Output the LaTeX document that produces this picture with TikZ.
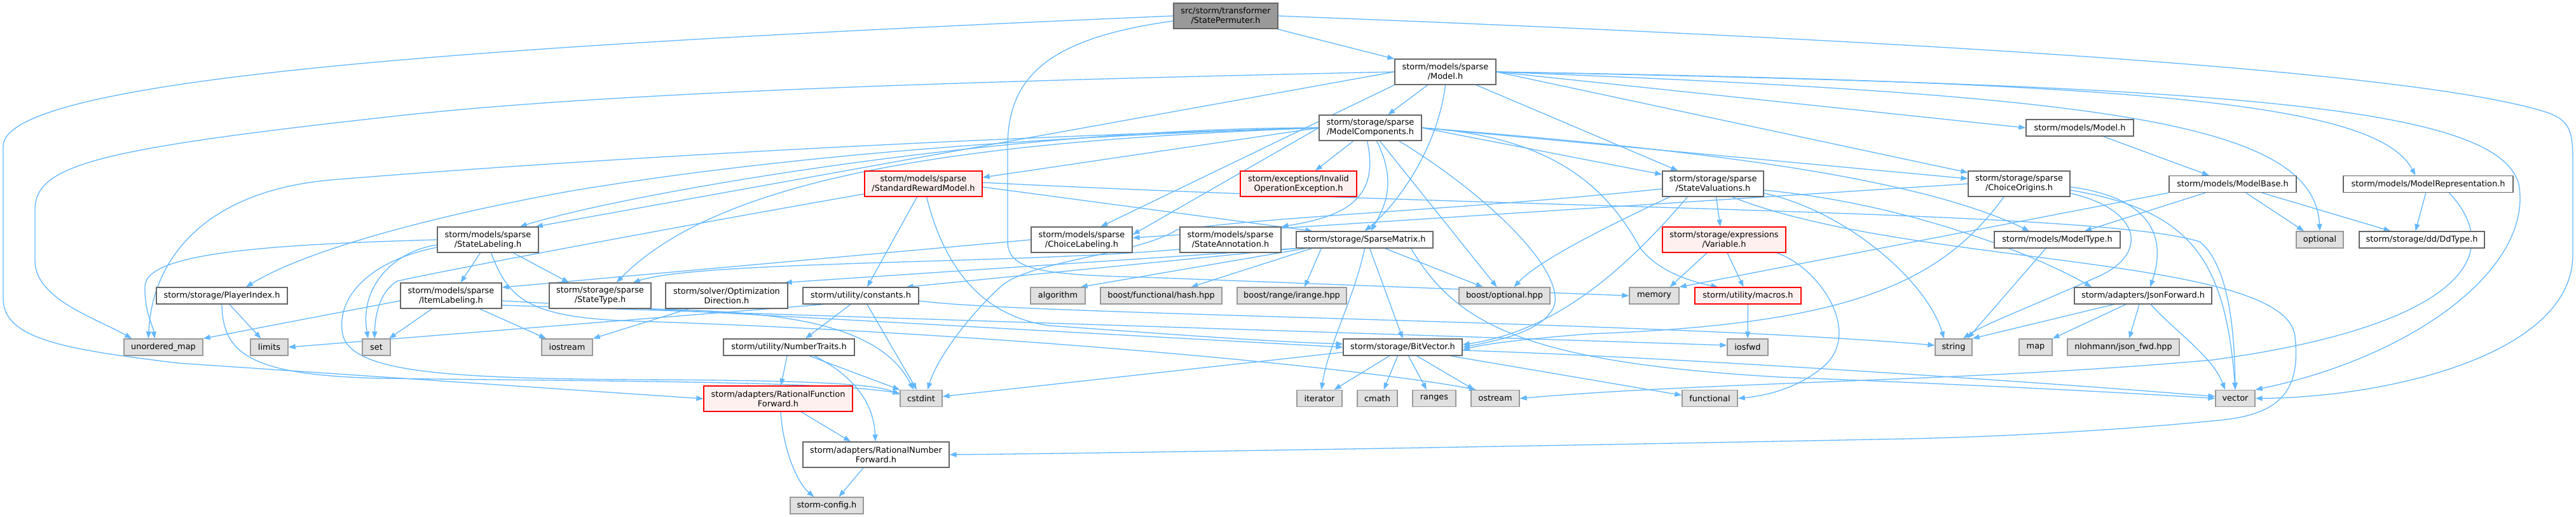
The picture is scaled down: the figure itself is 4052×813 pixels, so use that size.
\documentclass[tikz,border=0pt]{standalone}
\usepackage{fontspec}
\newfontfamily\dvs{DejaVu Sans}
\usetikzlibrary{arrows.meta,backgrounds}
\definecolor{eblue}{RGB}{99,184,255}
\definecolor{bgray}{RGB}{102,102,102}
\definecolor{ggray}{RGB}{153,153,153}
\definecolor{efill}{RGB}{224,224,224}
\definecolor{rfill}{RGB}{255,240,240}
\definecolor{rootfill}{RGB}{153,153,153}
\tikzset{
  nd/.style={draw=bgray, fill=white, line width=1.3pt, inner sep=0pt, align=center, text=black, font=\dvs\fontsize{12.9pt}{15pt}\selectfont},
  ext/.style={nd, draw=ggray, fill=efill},
  trunc/.style={nd, draw=red, fill=rfill},
  root/.style={nd, fill=rootfill},
  sz/.style 2 args={minimum width=#1pt, minimum height=#2pt},
  dep/.style={draw=eblue, line width=1.3pt, -{Triangle[length=11pt,width=8pt]}}
}
\begin{document}
\begin{tikzpicture}[x=1pt,y=-1pt]
\useasboundingbox (0,0) rectangle (4052,813);
% ---------- nodes ----------
\node[root, sz={164}{40}] (SP) at (1928,25) {src/storm/transformer\\/StatePermuter.h};
\node[nd, sz={159}{40}] (ModelSp) at (2273.5,113) {storm/models/sparse\\/Model.h};
\node[nd, sz={161}{40}] (MC) at (2155.5,201) {storm/storage/sparse\\/ModelComponents.h};
\node[nd, sz={169}{26}] (MM) at (3271.5,201) {storm/models/Model.h};
\node[trunc, sz={185}{40}] (SRM) at (1452.5,289) {storm/models/sparse\\/StandardRewardModel.h};
\node[trunc, sz={183}{40}] (IOE) at (2042.5,289) {storm/exceptions/Invalid\\OperationException.h};
\node[nd, sz={159}{40}] (SV) at (2694.5,289) {storm/storage/sparse\\/StateValuations.h};
\node[nd, sz={160}{40}] (CO) at (3176,289) {storm/storage/sparse\\/ChoiceOrigins.h};
\node[nd, sz={200}{26}] (MB) at (3512,289.5) {storm/models/ModelBase.h};
\node[nd, sz={267}{26}] (MR) at (3819.5,289.5) {storm/models/ModelRepresentation.h};
\node[nd, sz={159}{40}] (SL) at (767.5,377) {storm/models/sparse\\/StateLabeling.h};
\node[nd, sz={159}{40}] (CL) at (1701.5,377) {storm/models/sparse\\/ChoiceLabeling.h};
\node[nd, sz={159}{40}] (SA) at (1935.5,377) {storm/models/sparse\\/StateAnnotation.h};
\node[nd, sz={215}{26}] (SM) at (2146.5,377) {storm/storage/SparseMatrix.h};
\node[trunc, sz={194}{40}] (Var) at (2712,377) {storm/storage/expressions\\/Variable.h};
\node[nd, sz={198}{26}] (MT) at (3236,377) {storm/models/ModelType.h};
\node[ext, sz={74}{26}] (optional) at (3649,377) {optional};
\node[nd, sz={197}{26}] (DdType) at (3809.5,377) {storm/storage/dd/DdType.h};
\node[nd, sz={206}{26}] (PI) at (349,465) {storm/storage/PlayerIndex.h};
\node[nd, sz={159}{40}] (IL) at (709.5,465) {storm/models/sparse\\/ItemLabeling.h};
\node[nd, sz={160}{40}] (ST) at (944,465) {storm/storage/sparse\\/StateType.h};
\node[nd, sz={192}{40}] (OD) at (1143,465) {storm/solver/Optimization\\Direction.h};
\node[nd, sz={182}{26}] (constants) at (1354,465) {storm/utility/constants.h};
\node[ext, sz={86}{26}] (algorithm) at (1664,465) {algorithm};
\node[ext, sz={191}{26}] (hash) at (1826.5,465) {boost/functional/hash.hpp};
\node[ext, sz={172}{26}] (irange) at (2032,465) {boost/range/irange.hpp};
\node[ext, sz={143}{26}] (bopt) at (2366.5,465) {boost/optional.hpp};
\node[ext, sz={78}{26}] (memory) at (2602,465) {memory};
\node[trunc, sz={167}{26}] (macros) at (2749.5,465) {storm/utility/macros.h};
\node[nd, sz={216}{26}] (JF) at (3371,465) {storm/adapters/JsonForward.h};
\node[ext, sz={124}{26}] (umap) at (257,546) {unordered\_map};
\node[ext, sz={59}{26}] (limits) at (423.5,546) {limits};
\node[ext, sz={44}{26}] (set) at (592,546) {set};
\node[ext, sz={80}{26}] (iostream) at (892,546) {iostream};
\node[nd, sz={206}{26}] (NT) at (1241,546) {storm/utility/NumberTraits.h};
\node[nd, sz={187}{26}] (BV) at (2206.5,546) {storm/storage/BitVector.h};
\node[ext, sz={64}{26}] (iosfwd) at (2749,546) {iosfwd};
\node[ext, sz={58}{26}] (string) at (3073,546) {string};
\node[ext, sz={52}{26}] (map) at (3202,546) {map};
\node[ext, sz={176}{26}] (nlohmann) at (3340,546) {nlohmann/json\_fwd.hpp};
\node[trunc, sz={234}{40}] (RFF) at (1224,627) {storm/adapters/RationalFunction\\Forward.h};
\node[ext, sz={66}{26}] (cstdint) at (1449,626.5) {cstdint};
\node[ext, sz={71}{26}] (iterator) at (2075.5,626.5) {iterator};
\node[ext, sz={63}{26}] (cmath) at (2166.5,626.5) {cmath};
\node[ext, sz={68}{26}] (ranges) at (2256,626.5) {ranges};
\node[ext, sz={76}{26}] (ostream) at (2352,626.5) {ostream};
\node[ext, sz={87}{26}] (functional) at (2689.5,626.5) {functional};
\node[ext, sz={62}{26}] (vector) at (3516,626.5) {vector};
\node[nd, sz={230}{40}] (RNF) at (1378,715) {storm/adapters/RationalNumber\\Forward.h};
\node[ext, sz={115}{26}] (config) at (1300.5,795) {storm-config.h};
% ---------- edges ----------
\begin{pgfonlayer}{background}
\fill[white] (0,0) rectangle (4052,813);
% StatePermuter
\draw[dep] (SP) -- (ModelSp);
\draw[dep] (SP.west) .. controls (800,70) and (5,120) .. (5,230) -- (5,470) .. controls (5,535) and (110,550) .. (280,571) -- (RFF.west);
\draw[dep] ([yshift=-8pt]SP.west) .. controls (1650,60) and (1585,120) .. (1585,230) -- (1585,380) .. controls (1585,425) and (1640,432) .. (1800,436) -- (memory.west);
\draw[dep] (SP.east) .. controls (3300,75) and (3850,125) .. (4010,178) .. controls (4045,192) and (4047,210) .. (4047,260) -- (4047,400) .. controls (4047,560) and (3750,625) .. (vector.east);
% sparse Model
\draw[dep] (ModelSp) -- (MC);
\draw[dep] (ModelSp.south) .. controls (2262,230) and (2200,320) .. (SM.north);
\draw[dep] (ModelSp) -- ([xshift=25pt]SV.north west);
\draw[dep] (ModelSp.east) -- (MM.west);
\draw[dep] (ModelSp.east) .. controls (3400,130) and (3740,165) .. ([xshift=-20pt]MR.north);
\draw[dep] (ModelSp.east) .. controls (3300,150) and (3640,190) .. (optional.north);
\draw[dep] (ModelSp.east) .. controls (3500,135) and (3930,165) .. (3962,290) .. controls (3985,420) and (3800,560) .. (vector.north east);
\draw[dep] (ModelSp.west) .. controls (1400,130) and (900,150) .. (600,185) .. controls (150,235) and (55,260) .. (55,330) -- (55,410) .. controls (55,470) and (150,500) .. ([xshift=13pt]umap.north west);
\draw[dep] (ModelSp.west) -- ([xshift=-5pt]SL.north east);
\draw[dep] (ModelSp.south west) -- ([xshift=30pt]CL.north);
\draw[dep] (ModelSp.east) -- ([yshift=-3pt]CO.north west);
% ModelComponents
\draw[dep] (MC.west) .. controls (1600,200) and (1000,300) .. ([xshift=-30pt]SL.north east);
\draw[dep] (MC.west) -- ([yshift=8pt]CL.east);
\draw[dep] (MC.west) -- ([yshift=10pt]SRM.east);
\draw[dep] ([xshift=-5pt]MC.south) .. controls (2170,310) and (2120,340) .. (SA.north east);
\draw[dep] ([xshift=10pt]MC.south) .. controls (2200,290) and (2175,330) .. ([xshift=10pt]SM.north);
\draw[dep] ([xshift=45pt]MC.south) .. controls (2330,300) and (2460,420) .. (2445,480) .. controls (2430,520) and (2360,535) .. (BV.east);
\draw[dep] (MC.west) .. controls (1600,215) and (1200,250) .. (900,300) .. controls (650,345) and (470,400) .. ([xshift=38pt]PI.north);
\draw[dep] (MC.east) -- ([yshift=8pt]CO.west);
\draw[dep] (MC.west) .. controls (1600,220) and (1150,260) .. ([xshift=-55pt]ST.north east);
\draw[dep] (MC.east) -- ([yshift=-6pt]SV.north west);
\draw[dep] (MC.east) .. controls (2450,215) and (2530,300) .. (2580,390) .. controls (2610,430) and (2670,445) .. ([xshift=37pt]macros.north west);
\draw[dep] (MC) -- (IOE);
\draw[dep] ([xshift=15pt]MC.south) -- ([xshift=-12pt]bopt.north);
\draw[dep] (MC.east) .. controls (2600,230) and (3000,270) .. ([xshift=-44pt]MT.north);
\draw[dep] (MC.west) .. controls (1400,220) and (800,260) .. (520,283) .. controls (330,300) and (240,400) .. ([xshift=39pt]umap.north west);
% models/Model, ModelBase, ModelRepresentation
\draw[dep] (MM) -- (MB);
\draw[dep] (MB) -- ([xshift=43pt]MT.north);
\draw[dep] (MB) -- ([xshift=-25pt]optional.north);
\draw[dep] (MB) -- ([xshift=-49pt]DdType.north);
\draw[dep] (MB.south west) -- (memory.north east);
\draw[dep] (MR) -- ([xshift=-10pt]DdType.north);
\draw[dep] ([xshift=33pt]MR.south) .. controls (3960,420) and (3820,520) .. (3480,566) .. controls (3100,600) and (2700,600) .. (ostream.east);
% StandardRewardModel
\draw[dep] ([yshift=-5pt]SRM.east) -- ([xshift=26pt]SM.north west);
\draw[dep] ([xshift=5pt]SRM.south) .. controls (1480,400) and (1530,495) .. (1650,512) .. controls (1900,530) and (2000,537) .. ([yshift=5pt]BV.west);
\draw[dep] ([yshift=-16pt]SRM.west) .. controls (1100,350) and (700,425) .. (625,442) .. controls (595,460) and (590,500) .. ([xshift=-3pt]set.north);
\draw[dep] ([xshift=-10pt]SRM.south) -- ([xshift=10pt]constants.north);
\draw[dep] ([yshift=2pt]SRM.east) .. controls (2400,330) and (3300,330) .. (3460,380) .. controls (3510,420) and (3515,540) .. (vector.north);
% StateLabeling
\draw[dep] ([xshift=-12pt]SL.south) -- ([xshift=15pt]IL.north);
\draw[dep] ([xshift=40pt]SL.south) -- ([xshift=-49pt]ST.north);
\draw[dep] ([yshift=-8pt]SL.west) .. controls (620,395) and (565,450) .. ([xshift=-13pt]set.north);
\draw[dep] ([yshift=-12pt]SL.west) .. controls (580,410) and (525,470) .. (540,530) .. controls (560,585) and (700,595) .. (1000,597) .. controls (1300,598) and (1380,605) .. ([yshift=6pt]cstdint.west);
\draw[dep] (SL.west) .. controls (400,385) and (230,400) .. (228,450) .. controls (227,490) and (240,510) .. ([xshift=49pt]umap.north west);
\draw[dep] ([xshift=5pt]SL.south) .. controls (800,470) and (830,500) .. (1000,505) .. controls (1600,525) and (2150,580) .. ([xshift=-30pt]ostream.north);
% ItemLabeling
\draw[dep] ([yshift=-8pt]IL.west) -- (umap.north east);
\draw[dep] ([xshift=-30pt]IL.south) -- ([xshift=20pt]set.north);
\draw[dep] ([xshift=45pt]IL.south) -- ([xshift=-33pt]iostream.north);
\draw[dep] ([yshift=-8pt]IL.east) -- (BV.west);
\draw[dep] ([yshift=-15pt]IL.east) -- ([yshift=3pt]iosfwd.west);
% ChoiceLabeling, StateAnnotation
\draw[dep] (CL.west) -- ([yshift=13pt]IL.east);
\draw[dep] ([yshift=-15pt]SA.west) .. controls (1600,415) and (1100,410) .. ([xshift=-29pt]ST.north east);
% ChoiceOrigins
\draw[dep] (CO.west) -- ([yshift=3pt]CL.east);
\draw[dep] ([yshift=-5pt]CO.east) .. controls (3380,310) and (3410,370) .. ([xshift=11pt]JF.north);
\draw[dep] ([yshift=-10pt]CO.east) .. controls (3440,330) and (3500,400) .. (vector.north);
\draw[dep] ([yshift=-15pt]CO.east) .. controls (3370,330) and (3380,400) .. (3300,435) .. controls (3200,480) and (3120,510) .. ([xshift=15pt]string.north);
\draw[dep] ([xshift=-24pt]CO.south) .. controls (3050,450) and (2900,510) .. (2500,525) .. controls (2400,533) and (2340,540) .. ([yshift=-4pt]BV.east);
% SparseMatrix
\draw[dep] (SM.south west) -- ([xshift=-5pt]OD.north east);
\draw[dep] (SM.south west) -- ([xshift=-20pt]constants.north east);
\draw[dep] ([xshift=15pt]SM.south west) -- ([xshift=-8pt]algorithm.north east);
\draw[dep] ([xshift=25pt]SM.south west) -- ([xshift=47pt]hash.north);
\draw[dep] ([xshift=40pt]SM.south west) -- ([xshift=20pt]irange.north);
\draw[dep] ([xshift=32pt]SM.south) -- ([xshift=-34pt]bopt.north);
\draw[dep] ([xshift=8pt]SM.south) -- (BV.north);
\draw[dep] (SM.south) .. controls (2130,470) and (2090,540) .. ([xshift=3pt]iterator.north);
\draw[dep] ([xshift=-35pt]SM.south east) .. controls (2290,510) and (2400,570) .. (2800,593) .. controls (3100,605) and (3300,615) .. (vector.west);
% StateValuations
\draw[dep] ([xshift=5pt]SV.south) -- ([xshift=-6pt]Var.north);
\draw[dep] ([xshift=12pt]SV.south west) .. controls (2520,360) and (2420,410) .. ([xshift=15pt]bopt.north);
\draw[dep] ([xshift=40pt]SV.south west) .. controls (2560,420) and (2450,520) .. ([yshift=4pt]BV.east);
\draw[dep] ([yshift=-10pt]SV.east) .. controls (3000,320) and (3200,400) .. ([xshift=-81pt]JF.north);
\draw[dep] ([yshift=-15pt]SV.east) .. controls (2900,330) and (3030,440) .. ([xshift=-15pt]string.north);
\draw[dep] ([yshift=-8pt]SV.west) .. controls (2300,330) and (2000,340) .. (1850,362) .. controls (1790,400) and (1620,410) .. (1575,450) .. controls (1530,490) and (1475,560) .. ([xshift=10pt]cstdint.north);
\draw[dep] ([xshift=30pt]SV.south) .. controls (3000,420) and (3600,400) .. (3610,530) .. controls (3620,620) and (3580,650) .. (3500,660) .. controls (3300,680) and (3100,688) .. (3000,690) .. controls (2500,700) and (1800,712) .. (RNF.east);
% Variable, macros
\draw[dep] ([xshift=-27pt]Var.south) -- ([xshift=-15pt]memory.north east);
\draw[dep] ([xshift=5pt]Var.south) -- ([xshift=-7pt]macros.north);
\draw[dep] ([xshift=-15pt]Var.south east) .. controls (2860,420) and (2930,520) .. (2870,575) .. controls (2830,610) and (2780,622) .. (functional.east);
\draw[dep] (macros) -- (iosfwd);
% constants, NumberTraits, forwards
\draw[dep] ([xshift=-16pt]constants.south) -- ([xshift=26pt]NT.north);
\draw[dep] ([xshift=10pt]constants.south) -- ([xshift=-7pt]cstdint.north);
\draw[dep] ([xshift=-58pt]constants.south) -- (limits.east);
\draw[dep] ([yshift=-8pt]constants.east) .. controls (1600,495) and (2600,505) .. ([yshift=3pt]string.west);
\draw[dep] (NT) -- (RFF);
\draw[dep] ([xshift=32pt]NT.south) -- (cstdint.north west);
\draw[dep] ([xshift=40pt]NT.south) .. controls (1360,600) and (1375,650) .. ([xshift=-1pt]RNF.north);
\draw[dep] ([xshift=36pt]RFF.south) -- ([xshift=-40pt]RNF.north);
\draw[dep] ([xshift=4pt]RFF.south) .. controls (1232,710) and (1255,760) .. ([xshift=-20pt]config.north);
\draw[dep] ([xshift=-20pt]RNF.south) -- ([xshift=19pt]config.north);
% PlayerIndex, OptimizationDirection, StateType
\draw[dep] ([xshift=12pt]PI.south) -- ([xshift=-13pt]limits.north);
\draw[dep] (PI.south) .. controls (350,560) and (400,590) .. (600,595) .. controls (1000,600) and (1300,600) .. ([yshift=8pt]cstdint.west);
\draw[dep] ([xshift=-60pt]OD.south) -- (iostream.north east);
\draw[dep] ([xshift=-5pt]ST.south east) .. controls (1200,490) and (1380,500) .. ([xshift=-12pt]cstdint.north);
% JsonForward, ModelType
\draw[dep] ([xshift=-46pt]JF.south) -- (string.north east);
\draw[dep] ([xshift=-27pt]JF.south) -- (map.north east);
\draw[dep] ([xshift=-6pt]JF.south) -- ([xshift=9pt]nlohmann.north);
\draw[dep] ([xshift=12pt]JF.south) .. controls (3420,520) and (3480,560) .. ([xshift=-16pt]vector.north);
\draw[dep] ([xshift=-18pt]MT.south) -- ([xshift=22pt]string.north);
% BitVector
\draw[dep] ([xshift=-21pt]BV.south) -- ([xshift=23pt]iterator.north);
\draw[dep] ([xshift=-8pt]BV.south) -- ([xshift=10pt]cmath.north);
\draw[dep] ([xshift=9pt]BV.south) -- ([xshift=-12pt]ranges.north);
\draw[dep] ([xshift=22pt]BV.south) -- ([xshift=-33pt]ostream.north);
\draw[dep] ([xshift=75pt]BV.south) -- ([yshift=5pt]functional.west);
\draw[dep] ([yshift=-8pt]BV.west) -- ([yshift=3pt]cstdint.east);
\draw[dep] ([yshift=-5pt]BV.east) .. controls (2600,560) and (3200,600) .. ([yshift=3pt]vector.west);
\end{pgfonlayer}
\end{tikzpicture}
\end{document}
